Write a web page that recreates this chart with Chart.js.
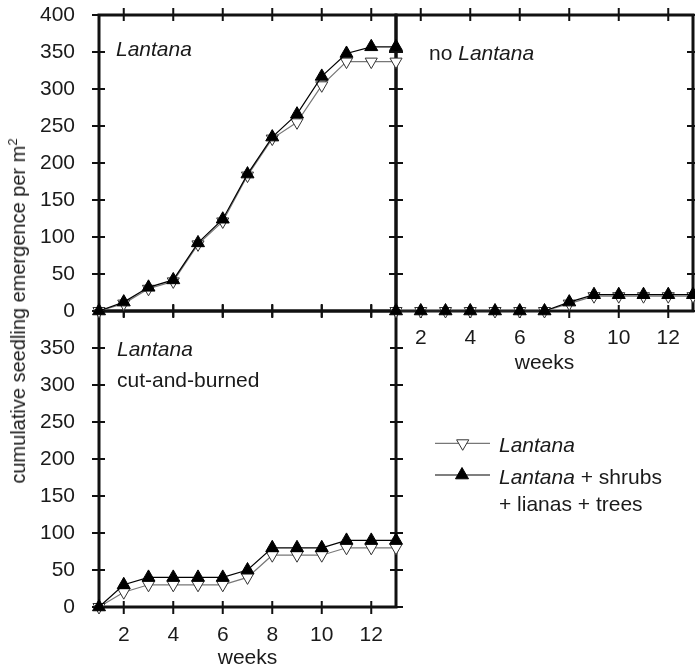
<!DOCTYPE html>
<html>
<head>
<meta charset="utf-8">
<script src="https://cdn.jsdelivr.net/npm/chart.js@4.4.1/dist/chart.umd.min.js"></script>
<style>
  body { margin: 0; background: #fff; }
  #wrap { position: relative; width: 695px; height: 671px; font-family: 'Liberation Sans', Arial, sans-serif; color: #1a1a1a; }
  #wrap canvas { position: absolute; left: 0; top: 0; }
  .lbl { position: absolute; font-size: 21px; line-height: 25px; white-space: nowrap; }
  .it { font-style: italic; }
  #ytitle { position: absolute; left: 18px; top: 311px; font-size: 20px; line-height: 24px; white-space: nowrap;
            transform: translate(-50%, -50%) rotate(-90deg); }
  #ytitle sup { font-size: 13px; line-height: 0; }
  #legendMarks { position: absolute; left: 430px; top: 430px; }
</style>
</head>
<body>
<div id="wrap">
  <canvas id="seedChart" width="695" height="671"></canvas>
  <div id="ytitle">cumulative seedling emergence per m<sup>2</sup></div>
  <div class="lbl it" style="left:116px; top:36px;">Lantana</div>
  <div class="lbl" style="left:429px; top:40px;">no <span class="it">Lantana</span></div>
  <div class="lbl it" style="left:117px; top:336px;">Lantana</div>
  <div class="lbl" style="left:117px; top:367px;">cut-and-burned</div>

  <!-- légende -->
  <svg id="legendMarks" width="70" height="60">
    <line x1="5" y1="13.3" x2="60" y2="13.3" stroke="#777" stroke-width="1.2"/>
    <polygon points="26.6,9.8 38.8,9.8 32.7,20.3" fill="#fff" stroke="#333" stroke-width="1"/>
    <line x1="5" y1="45" x2="60" y2="45" stroke="#000" stroke-width="1.2"/>
    <polygon points="32,37.5 38.5,48.8 25.5,48.8" fill="#000" stroke="#000" stroke-width="1"/>
  </svg>
  <div class="lbl it" style="left:499px; top:432px;">Lantana</div>
  <div class="lbl" style="left:499px; top:464px;"><span class="it">Lantana</span> + shrubs</div>
  <div class="lbl" style="left:499px; top:491px;">+ lianas + trees</div>
</div>

<script>
// semaines de suivi
const weeks = [1, 2, 3, 4, 5, 6, 7, 8, 9, 10, 11, 12, 13];
const weekTicks = [2, 4, 6, 8, 10, 12];
const densityTicks = [0, 50, 100, 150, 200, 250, 300, 350, 400];

// parcelles avec Lantana (haut gauche)
const lantanaOnly = [0, 10, 30, 40, 90, 121, 183, 233, 255, 305, 337, 337, 337];
const lantanaPlus = [0, 12, 32, 42, 92, 124, 185, 235, 266, 317, 348, 357, 357];

// parcelles sans Lantana (haut droite)
const noLantanaOnly = [0, 0, 0, 0, 0, 0, 0, 10, 20, 20, 20, 20, 20];
const noLantanaPlus = [0, 0, 0, 0, 0, 0, 0, 12, 22, 22, 22, 22, 22];

// Lantana coupé et brûlé (bas gauche)
const burnedOnly = [0, 20, 30, 30, 30, 30, 40, 70, 70, 70, 80, 80, 80];
const burnedPlus = [0, 30, 40, 40, 40, 40, 50, 80, 80, 80, 90, 90, 90];

const seriesNames = ['Lantana', 'Lantana + shrubs + lianas + trees'];

const fontFamily = "'Liberation Sans', Arial, sans-serif";
const textColor = '#1a1a1a';

function openSeries(values, xId, yId) {
    return {
        label: seriesNames[0],
        data: weeks.map((w, i) => ({ x: w, y: values[i] })),
        xAxisID: xId,
        yAxisID: yId,
        borderColor: '#777',
        borderWidth: 1.2,
        pointStyle: 'triangle',
        pointRotation: 180,
        pointRadius: 7,
        pointBackgroundColor: '#fff',
        pointBorderColor: '#333',
        pointBorderWidth: 1,
        order: 2,
        clip: false
    };
}

function filledSeries(values, xId, yId) {
    return {
        label: seriesNames[1],
        data: weeks.map((w, i) => ({ x: w, y: values[i] })),
        xAxisID: xId,
        yAxisID: yId,
        borderColor: '#000',
        borderWidth: 1.2,
        pointStyle: 'triangle',
        pointRadius: 7.5,
        pointBackgroundColor: '#000',
        pointBorderColor: '#000',
        pointBorderWidth: 1,
        order: 1,
        clip: false
    };
}

// les trois panneaux : axe x + axe y
const panels = [
    { x: 'xLeft', y: 'yTop' },
    { x: 'xRight', y: 'yTop' },
    { x: 'xLeft', y: 'yBottom' }
];

// cadre épais et graduations qui traversent le cadre
const framePlugin = {
    id: 'panelFrames',
    beforeDatasetsDraw(chart) {
        const ctx = chart.ctx;
        ctx.save();
        ctx.strokeStyle = '#111';
        panels.forEach(p => {
            const xs = chart.scales[p.x];
            const ys = chart.scales[p.y];
            ctx.lineWidth = 2;
            ctx.beginPath();
            xs.ticks.forEach(t => {
                const px = xs.getPixelForValue(t.value);
                ctx.moveTo(px, ys.top - 7); ctx.lineTo(px, ys.top + 6);
                ctx.moveTo(px, ys.bottom - 6); ctx.lineTo(px, ys.bottom + 7);
            });
            ys.ticks.forEach(t => {
                const py = ys.getPixelForValue(t.value);
                ctx.moveTo(xs.left - 7, py); ctx.lineTo(xs.left + 6, py);
                ctx.moveTo(xs.right - 6, py); ctx.lineTo(xs.right + 7, py);
            });
            ctx.stroke();
            ctx.lineWidth = 3;
            ctx.strokeRect(xs.left, ys.top, xs.right - xs.left, ys.bottom - ys.top);
        });
        ctx.restore();
    },
    afterDraw(chart) {
        // étiquettes de l'axe x du panneau haut droite
        const xs = chart.scales.xRight;
        const ys = chart.scales.yTop;
        const ctx = chart.ctx;
        ctx.save();
        ctx.fillStyle = textColor;
        ctx.font = '21px ' + fontFamily;
        ctx.textAlign = 'center';
        ctx.textBaseline = 'alphabetic';
        weekTicks.forEach(v => {
            ctx.fillText(String(v), xs.getPixelForValue(v), ys.bottom + 32.5);
        });
        ctx.fillText('weeks', (xs.left + xs.right) / 2, ys.bottom + 58);
        ctx.restore();
    }
};

function xScale(showLabels) {
    return {
        type: 'linear',
        position: 'bottom',
        stack: 'weeks',
        stackWeight: 1,
        min: 1,
        max: 13,
        afterBuildTicks: (scale) => { scale.ticks = weekTicks.map(v => ({ value: v })); },
        afterFit: (scale) => {
            scale.height = 64;
            scale.paddingLeft = 0;
            scale.paddingRight = 0;
        },
        grid: { display: false },
        border: { display: false },
        ticks: {
            display: showLabels,
            autoSkip: false,
            maxRotation: 0,
            padding: 8,
            color: textColor,
            font: { family: fontFamily, size: 21 },
            callback: (v) => String(v)
        },
        title: {
            display: showLabels,
            text: 'weeks',
            color: textColor,
            font: { family: fontFamily, size: 21 },
            padding: { top: 0, bottom: 0 }
        }
    };
}

function yScale(hideTop) {
    return {
        type: 'linear',
        position: 'left',
        stack: 'density',
        stackWeight: 1,
        min: 0,
        max: 400,
        afterBuildTicks: (scale) => { scale.ticks = densityTicks.map(v => ({ value: v })); },
        afterFit: (scale) => {
            scale.width = 99;
            scale.paddingTop = 0;
            scale.paddingBottom = 0;
        },
        grid: { display: false },
        border: { display: false },
        ticks: {
            autoSkip: false,
            padding: 16,
            color: textColor,
            font: { family: fontFamily, size: 21 },
            callback: (v) => (hideTop && v === 400) ? '' : String(v)
        }
    };
}

const seedCtx = document.getElementById('seedChart').getContext('2d');

const seedChart = new Chart(seedCtx, {
    type: 'line',
    data: {
        datasets: [
            openSeries(lantanaOnly, 'xLeft', 'yTop'),
            filledSeries(lantanaPlus, 'xLeft', 'yTop'),
            openSeries(noLantanaOnly, 'xRight', 'yTop'),
            filledSeries(noLantanaPlus, 'xRight', 'yTop'),
            openSeries(burnedOnly, 'xLeft', 'yBottom'),
            filledSeries(burnedPlus, 'xLeft', 'yBottom')
        ]
    },
    options: {
        responsive: false,
        animation: false,
        devicePixelRatio: 1,
        layout: { autoPadding: false, padding: { top: 15, right: 2, left: 0, bottom: 0 } },
        plugins: {
            legend: { display: false },
            tooltip: { enabled: false }
        },
        scales: {
            xLeft: xScale(true),
            xRight: xScale(false),
            yBottom: yScale(true),
            yTop: yScale(false)
        }
    },
    plugins: [framePlugin]
});
</script>
</body>
</html>
